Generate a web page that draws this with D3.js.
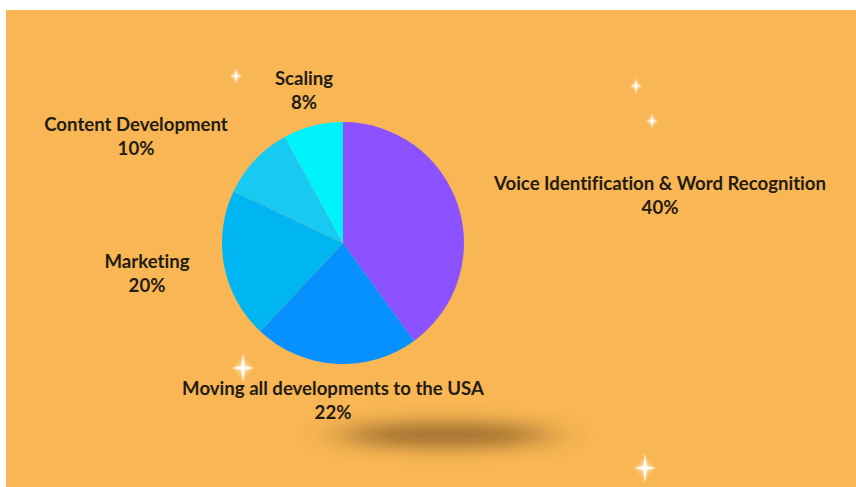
<!DOCTYPE html>
<html>
<head>
<meta charset="utf-8">
<script src="https://cdn.jsdelivr.net/npm/d3@7"></script>
<style>
html,body{margin:0;padding:0;background:#ffffff;}
svg{display:block;}
text{font-variant-ligatures:none;}
</style>
</head>
<body>
<svg id="chart" width="856" height="487"></svg>
<script>
const categories = ["Voice Identification & Word Recognition","Moving all developments to the USA","Marketing","Content Development","Scaling"];
const values = [40, 22, 20, 10, 8];
const colors = ["#8c52ff","#0791ff","#00b6f2","#18c9f2","#00f2fb"];

// label layout (relative to pie centre)
const labelPos = [[317,-48],[-10,157],[-196,30],[-207,-107],[-39,-153]];
const sparkles = [[236,76,6],[636,86,6],[652,121,6],[243,368,11],[645,468,11]];

const svg = d3.select("#chart");
const W = 856, H = 487;
const defs = svg.append("defs");
const blur = defs.append("filter").attr("id","blur").attr("x","-50%").attr("y","-300%").attr("width","200%").attr("height","700%");
blur.append("feGaussianBlur").attr("stdDeviation", "24 9");
const glow = defs.append("filter").attr("id","glow").attr("x","-100%").attr("y","-100%").attr("width","300%").attr("height","300%");
glow.append("feGaussianBlur").attr("stdDeviation", 1.2);
const rg = defs.append("radialGradient").attr("id","sg");
rg.append("stop").attr("offset","0%").attr("stop-color","#fff").attr("stop-opacity",0.9);
rg.append("stop").attr("offset","100%").attr("stop-color","#fff").attr("stop-opacity",0);

svg.append("rect").attr("x",6).attr("y",10).attr("width",W-6).attr("height",H-10).attr("fill","#f9b654");

// shadow
svg.append("ellipse").attr("cx",445).attr("cy",435).attr("rx",105).attr("ry",12)
  .attr("fill","#5e4018").attr("opacity",0.62).attr("filter","url(#blur)");

const cx = 343, cy = 243, r = 121;
const pie = d3.pie().sort(null).value(d => d);
const arcs = pie(values);
const arc = d3.arc().innerRadius(0).outerRadius(r);
const g = svg.append("g").attr("transform",`translate(${cx},${cy})`);
g.selectAll("path").data(arcs).join("path")
  .attr("d", arc).attr("fill",(d,i)=>colors[i]);

const lg = g.selectAll("text.lab").data(arcs).join("text")
  .attr("class","lab")
  .attr("text-anchor","middle")
  .attr("font-family","Lato, 'Open Sans', sans-serif")
  .attr("font-weight","bold")
  .attr("font-size","18.6px")
  .attr("fill","#231c14")
  .attr("transform",(d,i)=>`translate(${labelPos[i][0]},${labelPos[i][1]})`);
lg.append("tspan").attr("x",0).attr("y",-5).text((d,i)=>categories[i]);
lg.append("tspan").attr("x",0).attr("y",19).text((d,i)=>values[i]+"%");

// sparkles
const sp = svg.append("g");
sparkles.forEach(([x,y,s])=>{
  const gg = sp.append("g").attr("transform",`translate(${x},${y})`);
  gg.append("circle").attr("r",s*0.9).attr("fill","url(#sg)").attr("opacity",0.6);
  const w = s*0.14;
  const p = `M0,${-s*1.3} L${w},${-w} L${s},0 L${w},${w} L0,${s*1.3} L${-w},${w} L${-s},0 L${-w},${-w} Z`;
  gg.append("path").attr("d",p).attr("fill","#fff").attr("filter","url(#glow)");
  gg.append("path").attr("d",p).attr("fill","#fffdf4");
});
</script>
</body>
</html>
